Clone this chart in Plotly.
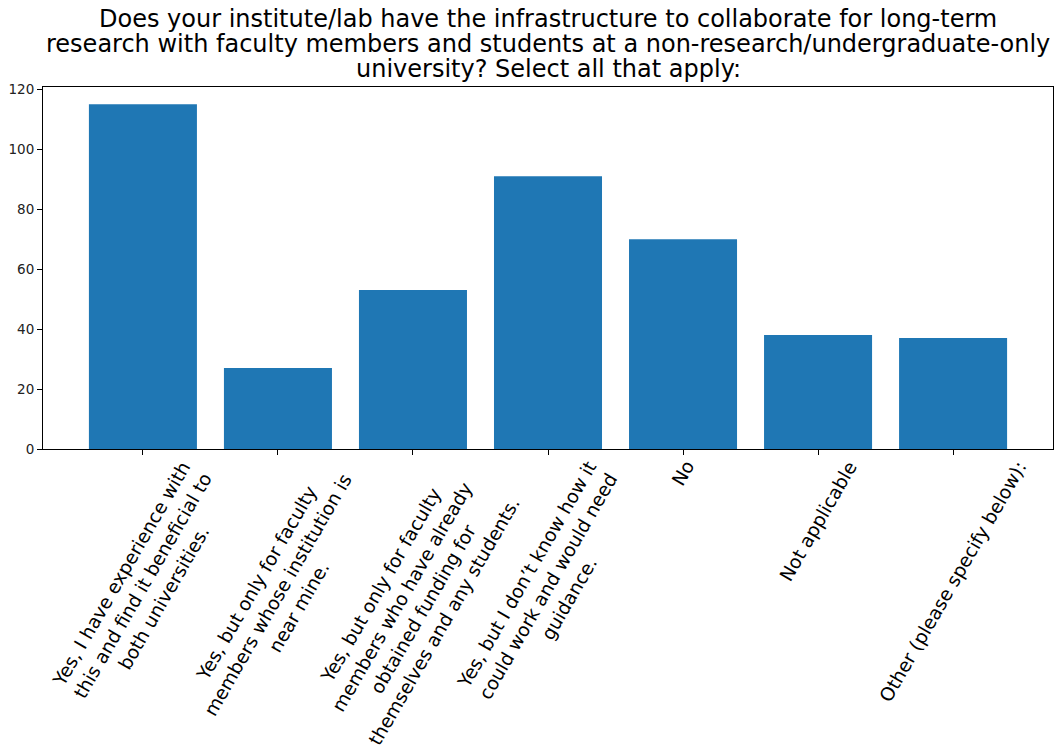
import plotly.graph_objects as go

categories = [
    "Yes, I have experience with<br>this and find it beneficial to<br>both universities.",
    "Yes, but only for faculty<br>members whose institution is<br>near mine.",
    "Yes, but only for faculty<br>members who have already<br>obtained funding for<br>themselves and any students.",
    "Yes, but I don’t know how it<br>could work and would need<br>guidance.",
    "No",
    "Not applicable",
    "Other (please specify below):",
]
values = [115, 27, 53, 91, 70, 38, 37]
y_ticks = [0, 20, 40, 60, 80, 100, 120]
title_lines = [
    "Does your institute/lab have the infrastructure to collaborate for long-term",
    "research with faculty members and students at a non-research/undergraduate-only",
    "university? Select all that apply:",
]

FONT = "DejaVu Sans"

fig = go.Figure(go.Bar(x=categories, y=values, marker_color="#1f77b4",
                       marker_line_width=0, width=0.8))

# category labels (rotated, centred under each tick)
for c in categories:
    fig.add_annotation(x=c, xref="x", y=0, yref="paper", yshift=-6,
                       text=c, textangle=-60, showarrow=False,
                       xanchor="center", yanchor="top", align="center",
                       font=dict(family=FONT, size=18.7, color="#000000"))

# title, one annotation per line to match line spacing
title_shifts = [68, 43, 18]
for line, ys in zip(title_lines, title_shifts):
    fig.add_annotation(x=0.5, xref="paper", y=1, yref="paper", yshift=ys,
                       text=line, showarrow=False, xanchor="center", yanchor="middle",
                       font=dict(family=FONT, size=24, color="#000000"))

fig.update_layout(
    width=1056, height=745,
    margin=dict(l=43, r=3, t=87, b=296, autoexpand=False),
    paper_bgcolor="white", plot_bgcolor="white",
    showlegend=False,
    font=dict(family=FONT, color="#000000"),
)
fig.update_xaxes(type="category", range=[-0.74, 6.74], showticklabels=False,
                 ticks="outside", ticklen=5, tickcolor="#000000",
                 showline=True, linecolor="#000000", linewidth=1, mirror=True,
                 showgrid=False, zeroline=False)
fig.update_yaxes(range=[0, 120.75], tickvals=y_ticks, ticks="outside", ticklen=5,
                 tickcolor="#000000", tickfont=dict(family=FONT, size=13.5, color="#222222"),
                 showline=True, linecolor="#000000", linewidth=1, mirror=True,
                 showgrid=False, zeroline=False)

fig.write_html("out.html", config={"displayModeBar": False},
               post_script="document.body.style.margin='0';document.body.style.overflow='hidden';")
